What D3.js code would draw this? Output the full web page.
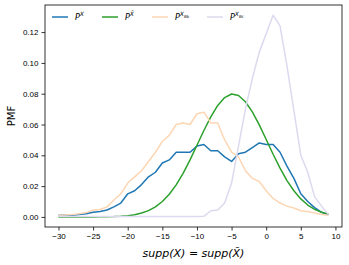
<!DOCTYPE html>
<html>
<head>
<meta charset="utf-8">
<script src="https://cdn.jsdelivr.net/npm/d3@7"></script>
<style>
  body { margin: 0; background: #fff; }
  svg { font-family: "DejaVu Sans", sans-serif; }
</style>
</head>
<body>
<svg id="chart" width="349" height="265"></svg>
<script>
// support -30 .. 9
const support = d3.range(-30, 10);

const pX = [0.001, 0.001, 0.001, 0.0015, 0.002, 0.003, 0.0035, 0.0045, 0.0065, 0.009,
  0.015, 0.017, 0.021, 0.026, 0.029, 0.035, 0.037, 0.042, 0.042, 0.042,
  0.046, 0.047, 0.043, 0.043, 0.039, 0.036, 0.041, 0.042, 0.045, 0.048,
  0.047, 0.047, 0.042, 0.033, 0.025, 0.015, 0.010, 0.006, 0.003, 0.0015];

const pXtilde = [0.0, 0.0, 0.0, 0.0, 0.0, 0.0, 0.0001, 0.0001, 0.0002, 0.0004,
  0.0008, 0.0014, 0.0025, 0.0041, 0.0065, 0.0100, 0.0147, 0.0208, 0.0283, 0.0370,
  0.0465, 0.0561, 0.0650, 0.0724, 0.0775, 0.0798, 0.0788, 0.0748, 0.0682, 0.0598,
  0.0503, 0.0407, 0.0317, 0.0236, 0.0170, 0.0117, 0.0077, 0.0049, 0.0030, 0.0018];

const pXb = [0.001, 0.0012, 0.0015, 0.002, 0.0028, 0.0045, 0.0048, 0.0065, 0.011, 0.015,
  0.022, 0.026, 0.030, 0.036, 0.042, 0.049, 0.053, 0.060, 0.061, 0.060,
  0.067, 0.068, 0.061, 0.061, 0.050, 0.042, 0.039, 0.030, 0.025, 0.023,
  0.017, 0.012, 0.009, 0.007, 0.0058, 0.004, 0.0035, 0.0025, 0.0015, 0.001];

const pXc = [0.0002, 0.0002, 0.0002, 0.0002, 0.0002, 0.0002, 0.0002, 0.0002, 0.0002, 0.0002,
  0.0002, 0.0002, 0.0002, 0.0002, 0.0002, 0.0002, 0.0002, 0.0002, 0.0002, 0.0002,
  0.0002, 0.0004, 0.004, 0.0045, 0.009, 0.022, 0.046, 0.070, 0.090, 0.107,
  0.119, 0.131, 0.124, 0.098, 0.069, 0.040, 0.029, 0.013, 0.007, 0.0015];

const xTicks = [-30, -25, -20, -15, -10, -5, 0, 5, 10];
const yTicks = [0, 0.02, 0.04, 0.06, 0.08, 0.10, 0.12];

const seriesList = [
  { values: pX, color: "#1f77b4", sup: "X", sub: null },
  { values: pXtilde, color: "#2ca02c", sup: "X\u0303", sub: null },
  { values: pXb, color: "#fdd6b3", sup: "X", sub: "\u03b8b" },
  { values: pXc, color: "#ddd9ee", sup: "X", sub: "\u03b8c" },
];

const margin = { left: 45, right: 7, top: 5, bottom: 38 };
const W = 349, H = 265;

const svg = d3.select("#chart");

const x = d3.scaleLinear().domain([-31.95, 10.95]).range([margin.left, W - margin.right]);
const y = d3.scaleLinear().domain([-0.00655, 0.1376]).range([H - margin.bottom, margin.top]);

const line = d3.line()
  .x((d, i) => x(support[i]))
  .y((d) => y(d));

// lines
svg.append("g")
  .selectAll("path")
  .data(seriesList)
  .enter()
  .append("path")
  .attr("fill", "none")
  .attr("stroke", (d) => d.color)
  .attr("stroke-width", 1.5)
  .attr("stroke-linejoin", "round")
  .attr("d", (d) => line(d.values));

// axes
const fmtMinus = (s) => s.replace("-", "\u2212");

svg.append("g")
  .attr("transform", `translate(0,${H - margin.bottom})`)
  .call(d3.axisBottom(x).tickValues(xTicks).tickSize(3.5).tickPadding(3)
    .tickFormat((d) => fmtMinus(String(d))))
  .call((g) => g.select(".domain").remove())
  .call((g) => g.selectAll("text").attr("font-size", 8).attr("fill", "#000"));

svg.append("g")
  .attr("transform", `translate(${margin.left},0)`)
  .call(d3.axisLeft(y).tickValues(yTicks).tickSize(3.5).tickPadding(3)
    .tickFormat(d3.format(".2f")))
  .call((g) => g.select(".domain").remove())
  .call((g) => g.selectAll("text").attr("font-size", 8).attr("fill", "#000"));

svg.selectAll(".tick line").attr("stroke", "#000").attr("stroke-width", 0.8);

// frame
svg.append("rect")
  .attr("x", margin.left)
  .attr("y", margin.top)
  .attr("width", W - margin.right - margin.left)
  .attr("height", H - margin.bottom - margin.top)
  .attr("fill", "none")
  .attr("stroke", "#000")
  .attr("stroke-width", 0.8);

// axis labels
svg.append("text")
  .attr("transform", `translate(12,${(margin.top + H - margin.bottom) / 2}) rotate(-90)`)
  .attr("text-anchor", "middle")
  .attr("dominant-baseline", "middle")
  .attr("font-size", 10)
  .text("PMF");

const xl = svg.append("text")
  .attr("x", (margin.left + W - margin.right) / 2)
  .attr("y", 257)
  .attr("text-anchor", "middle")
  .attr("font-size", 11);
xl.append("tspan").attr("font-style", "italic").text("supp(X)");
xl.append("tspan").text(" = ");
xl.append("tspan").attr("font-style", "italic").text("supp(X\u0303)");

// legend
const legendX = [52, 102, 152, 207];
const legend = svg.append("g")
  .selectAll("g")
  .data(seriesList)
  .enter()
  .append("g")
  .attr("transform", (d, i) => `translate(${legendX[i]},17)`);

legend.append("line")
  .attr("x1", 0).attr("x2", 16)
  .attr("stroke", (d) => d.color)
  .attr("stroke-width", 1.5);

const lt = legend.append("text")
  .attr("x", 23)
  .attr("y", 3)
  .attr("font-size", 8)
  .attr("font-style", "italic");
lt.append("tspan").text("P");
lt.append("tspan").attr("dy", -4).attr("font-size", 6).text((d) => d.sup);
lt.filter((d) => d.sub)
  .append("tspan").attr("dy", 2).attr("font-size", 4).text((d) => d.sub);
</script>
</body>
</html>
